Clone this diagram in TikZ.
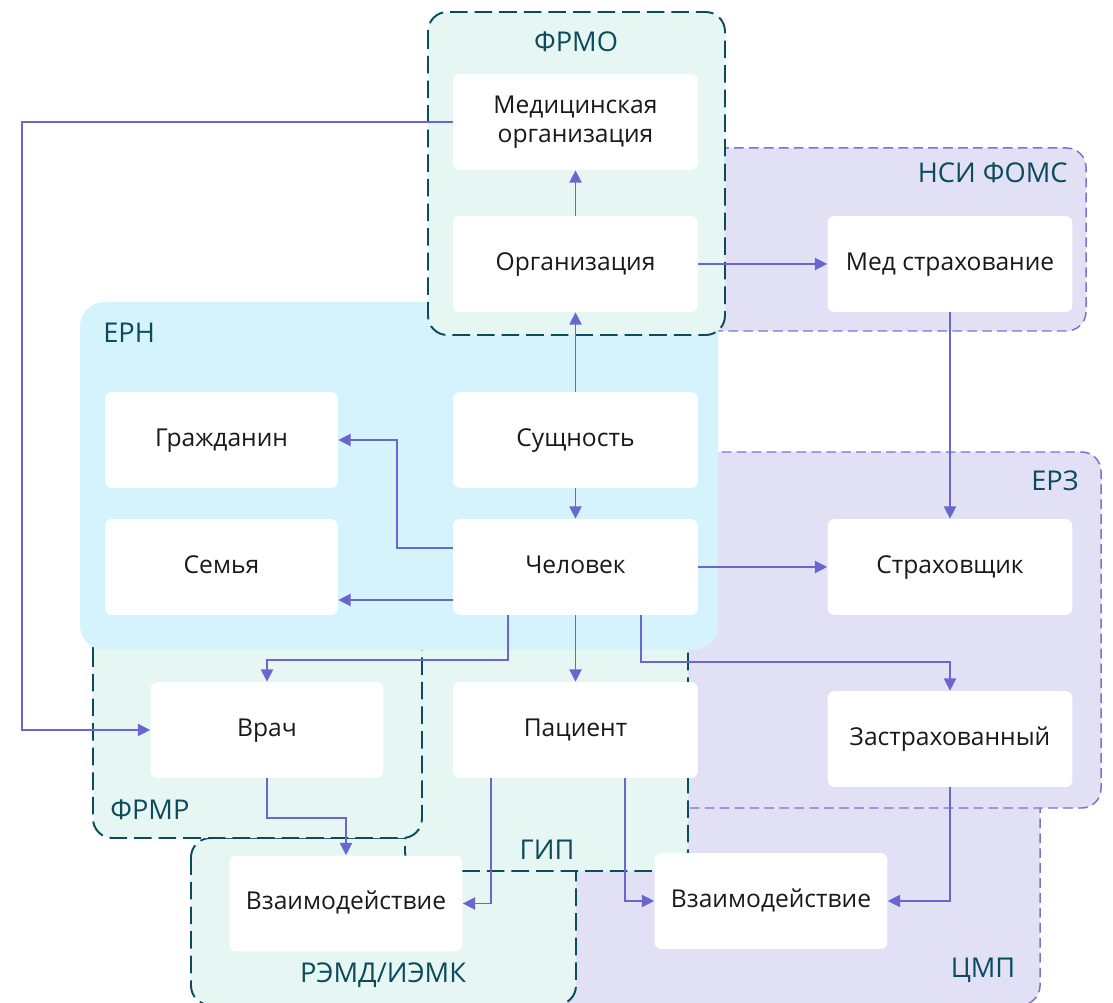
\documentclass[tikz,border=0pt]{standalone}
\usepackage{fontspec}
\setmainfont{Open Sans}
\usetikzlibrary{arrows.meta}

\definecolor{tealline}{HTML}{0C4A5C}
\definecolor{mintfill}{HTML}{E6F7F3}
\definecolor{bluefill}{HTML}{D5F3FC}
\definecolor{lavfill}{HTML}{E1E0F5}
\definecolor{lavline}{HTML}{7A72D8}
\definecolor{linkc}{HTML}{6A66D0}

\begin{document}
\begin{tikzpicture}[x=0.02cm, y=-0.02cm,
    box/.style = {shape = rectangle, fill = white, rounded corners = 4pt, inner sep = 0pt,
                  minimum width = 4.9cm, minimum height = 1.92cm,
                  text height = 0.8em, text depth = 0.1em,
                  text = black!90, font = \fontsize{14}{17}\selectfont},
    boxs/.style = {box, minimum width = 4.66cm},
    sysa/.style = {fill = mintfill, draw = tealline, line width = 1.1pt,
                   dash pattern = on 10pt off 4pt, rounded corners = 11pt},
    sysb/.style = {fill = lavfill, draw = lavline, line width = 0.85pt,
                   dash pattern = on 5.5pt off 3pt, rounded corners = 11pt},
    title/.style = {text = tealline, inner sep = 0pt, font = \fontsize{15.5}{18}\selectfont},
    link/.style = {draw = linkc, line width = 0.75pt, -{Triangle[length = 7pt, width = 7pt]}}]
    \fill[white] (0,0) rectangle (1113,1003);
    \useasboundingbox (0,0) rectangle (1113,1003);

    % systems
    \draw[sysb] (500,760) rectangle (1040,1005);
    \draw[sysb] (600,452) rectangle (1101,808);
    \draw[sysb] (600,148) rectangle (1086,331);
    \draw[sysa] (191,838) rectangle (576,1005);
    \draw[sysa] (405,630) rectangle (688,871);
    \draw[sysa] (93,630) rectangle (422,838);
    \fill[bluefill, rounded corners = 14pt] (80,302) rectangle (718,650);
    \draw[sysa] (428,12) rectangle (725,335);

    \node [title] (frmo) at (576,42) {ФРМО};
    \node [title, anchor = east] (nsi) at (1068,173) {НСИ ФОМС};
    \node [title, anchor = west] (ern) at (103,333) {ЕРН};
    \node [title, anchor = east] (erz) at (1079,481) {ЕРЗ};
    \node [title, anchor = west] (frmr) at (110,810) {ФРМР};
    \node [title] (gip) at (547,850) {ГИП};
    \node [title] (remd) at (383,975) {РЭМД/ИЭМК};
    \node [title] (cmp) at (983,970) {ЦМП};

    % entities
    \node [box, text height = , text depth = ] (medorg) at (575.5,122)
        {\begin{tabular}{@{}c@{}}Медицинская\\организация\end{tabular}};
    \node [box] (org) at (575.5,264) {Организация};
    \node [box] (medstrah) at (950,264) {Мед страхование};
    \node [boxs] (grazh) at (221.5,440) {Гражданин};
    \node [box] (sush) at (575.5,440) {Сущность};
    \node [boxs] (semya) at (221.5,567) {Семья};
    \node [box] (chel) at (575.5,567) {Человек};
    \node [box] (strah) at (950,567) {Страховщик};
    \node [boxs] (vrach) at (267,730) {Врач};
    \node [box] (pac) at (575.5,730) {Пациент};
    \node [box] (zastr) at (950,739) {Застрахованный};
    \node [boxs] (vzl) at (346,903.5) {Взаимодействие};
    \node [boxs] (vzr) at (771,901) {Взаимодействие};

    \draw[link] (org) to (medorg);
    \draw[link] (sush) to (org);
    \draw[link] (sush) to (chel);
    \draw[link] (org) to (medstrah);
    \draw[link] (medstrah) to (strah);
    \draw[link] (chel) to (strah);
    \draw[link] (chel) to (pac);
    \draw[link] (chel.west |- 0,548) -- (397,548) |- (grazh.east);
    \draw[link] (chel.west |- 0,600) -- (semya.east |- 0,600);
    \draw[link] (medorg.west) -| (22,730) -- (vrach.west);
    \draw[link] (chel.south -| 508,0) -- (508,660) -| (vrach.north);
    \draw[link] (chel.south -| 641,0) -- (641,662) -| (zastr.north);
    \draw[link] (vrach.south) -- (267,818) -| (vzl.north);
    \draw[link] (pac.south -| 491,0) |- (vzl.east);
    \draw[link] (pac.south -| 625,0) |- (vzr.west);
    \draw[link] (zastr.south) |- (vzr.east);
\end{tikzpicture}
\end{document}
